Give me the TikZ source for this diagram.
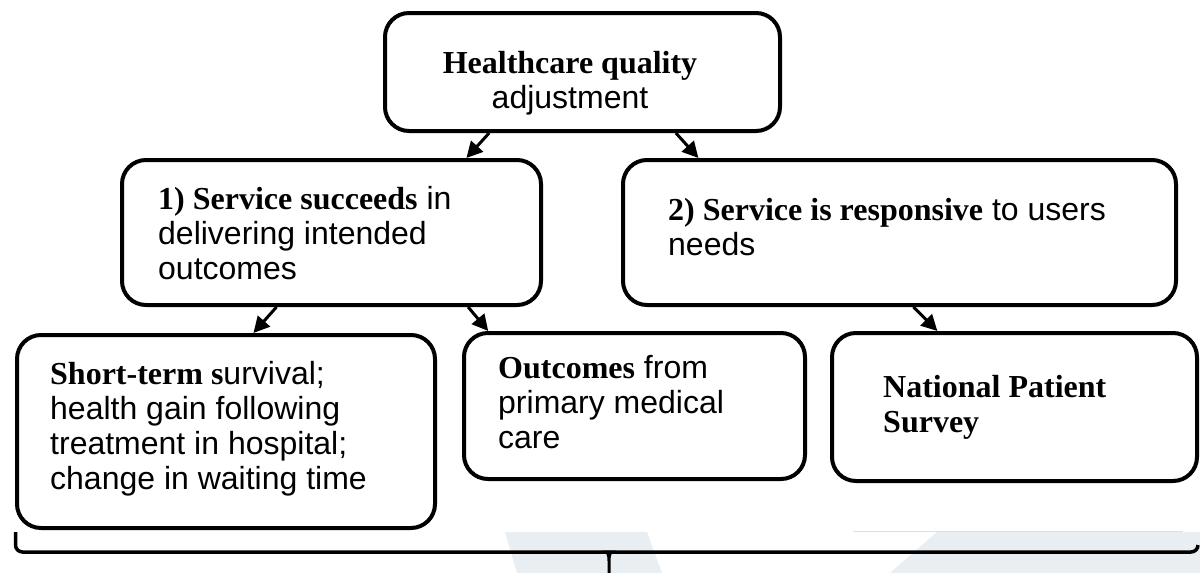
\documentclass[tikz,border=0pt]{standalone}
\usepackage{fontspec}
\setmainfont{Liberation Serif}
\setsansfont{Liberation Sans}
\usetikzlibrary{arrows.meta,calc}
\newcommand\bsf[1]{{\rmfamily\bfseries #1}}
\definecolor{wmark}{RGB}{233,238,243}
\begin{document}
\begin{tikzpicture}[x=1pt,y=-1pt,
  box/.style={draw,line width=4pt,rounded corners=24pt,inner sep=0pt},
  txt/.style={inner sep=0pt,align=left,anchor=north west,font=\sffamily\fontsize{32}{35}\selectfont},
  arr/.style={line width=3pt,-{Triangle[length=16pt,width=16pt]}}]
\useasboundingbox (0,0) rectangle (1200,573);
\fill[white] (0,0) rectangle (1200,573);
% faint watermark
\fill[wmark] (505,532) -- (647,532) -- (662,573) -- (517,573) -- cycle;
\fill[wmark] (937,532) -- (1200,532) -- (1200,573) -- (890,573) -- cycle;
\draw[gray!25,line width=1pt] (853,531) -- (1183,531);
% brace
\draw[line width=3.5pt,rounded corners=7pt] (15.5,532) -- (15.5,552) -- (1198,552) -- (1198,545);
\fill (601,550.5) .. controls (606,550.5) and (607.5,554) .. (607.5,561) -- (607.5,573) -- (610.5,573) -- (610.5,561) .. controls (610.5,554) and (612,550.5) .. (617,550.5) -- cycle;
% boxes
\node[box,minimum width=395pt,minimum height=118pt] (top) at (582.5,72) {};
\node[box,minimum width=419pt,minimum height=145pt] (b1) at (331.5,232.5) {};
\node[box,minimum width=553pt,minimum height=145pt] (b2) at (899.5,232.5) {};
\node[box,minimum width=418pt,minimum height=193pt] (b3) at (226,431.5) {};
\node[box,minimum width=341pt,minimum height=146pt] (b4) at (634.5,406) {};
\node[box,minimum width=365pt,minimum height=148pt] (b5) at (1014.5,407) {};
% texts
\node[txt,align=center,anchor=north] (topT) at (570,48.5) {\strut\bsf{Healthcare quality}\\adjustment};
\node[txt] (b1T) at (158,184.5) {\strut\bsf{1) Service succeeds} in\\delivering intended\\outcomes};
\node[txt] (b2T) at (668,195.5) {\strut\bsf{2) Service is responsive} to users\\needs};
\node[txt] (b3T) at (50,359.5) {\strut\bsf{Short-term s}urvival;\\health gain following\\treatment in hospital;\\change in waiting time};
\node[txt] (b4T) at (498,353.5) {\strut\bsf{Outcomes} from\\primary medical\\care};
\node[txt] (b5T) at (883,372.5) {\strut\bsf{National Patient}\\\bsf{Survey}};
% arrows
\draw[arr] ($(top.south west)!0.266!(top.south east)$) -- ($(b1.north west)!0.819!(b1.north east)$);
\draw[arr] ($(top.south west)!0.734!(top.south east)$) -- ($(b2.north west)!0.139!(b2.north east)$);
\draw[arr] ($(b1.south west)!0.37!(b1.south east)$) -- ($(b3.north west)!0.565!(b3.north east)$);
\draw[arr] ($(b1.south west)!0.823!(b1.south east)$) -- ($(b4.north west)!0.076!(b4.north east)$);
\draw[arr] ($(b2.south west)!0.525!(b2.south east)$) -- ($(b5.north west)!0.291!(b5.north east)$);
\end{tikzpicture}
\end{document}
